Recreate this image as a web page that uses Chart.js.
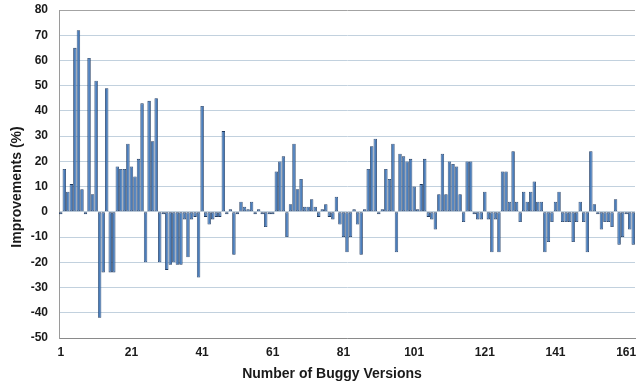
<!DOCTYPE html>
<html>
<head>
<meta charset="utf-8">
<script src="https://cdn.jsdelivr.net/npm/chart.js@4/dist/chart.umd.min.js"></script>
<style>
  html, body { margin: 0; padding: 0; background: #ffffff; }
  #wrap { width: 636px; height: 387px; }
</style>
</head>
<body>
<div id="wrap"><canvas id="chart" width="636" height="387"></canvas></div>
<script>
// Improvement (%) per buggy version, versions 1..163
const improvements = [
  -1, 17, 8, 11, 65, 72, 9, -1, 61, 7,
  52, -42, -24, 49, -24, -24, 18, 17, 17, 27,
  18, 14, 21, 43, -20, 44, 28, 45, -20, -1,
  -23, -21, -20, -21, -21, -3, -18, -3, -2, -26,
  42, -2, -5, -3, -2, -2, 32, -1, 1, -17,
  -1, 4, 2, 1, 4, -1, 1, -1, -6, -1,
  -1, 16, 20, 22, -10, 3, 27, 9, 13, 2,
  2, 5, 2, -2, 1, 3, -2, -3, 6, -5,
  -10, -16, -10, 1, -5, -17, 1, 17, 26, 29,
  -1, 1, 17, 13, 27, -16, 23, 22, 20, 21,
  10, 1, 11, 21, -2, -3, -7, 7, 23, 7,
  20, 19, 18, 7, -4, 20, 20, -1, -3, -3,
  8, -3, -16, -3, -16, 16, 16, 4, 24, 4,
  -4, 8, 4, 8, 12, 4, 4, -16, -12, -4,
  4, 8, -4, -4, -4, -12, -4, 4, -4, -16,
  24, 3, -1, -7, -4, -4, -6, 5, -13, -10,
  -1, -7, -13
];

// Version numbers used as categories
const versions = improvements.map((_, i) => String(i + 1));

// Category labels shown under the axis
const xTickLabels = ['1', '21', '41', '61', '81', '101', '121', '141', '161'];

// Value axis range and step
const yRange = { min: -50, max: 80, step: 10 };

const xTitle = 'Number of Buggy Versions';
const yTitle = 'Improvements (%)';

const fontFamily = "'Liberation Sans', Arial, Helvetica, sans-serif";
const textColor = '#1a1a1a';

// Axis titles, placed relative to the plot area
const axisTitles = {
  id: 'axisTitles',
  afterDraw(chart) {
    const { ctx, chartArea } = chart;
    ctx.save();
    ctx.fillStyle = textColor;
    ctx.font = 'bold 14px ' + fontFamily;
    ctx.textAlign = 'center';
    ctx.textBaseline = 'middle';
    ctx.fillText(xTitle, chartArea.left + 273, chartArea.bottom + 36);
    ctx.translate(17, chartArea.top + 177);
    ctx.rotate(-Math.PI / 2);
    ctx.fillText(yTitle, 0, 0);
    ctx.restore();
  }
};

new Chart(document.getElementById('chart'), {
  type: 'bar',
  data: {
    labels: versions,
    datasets: [{
      data: improvements,
      backgroundColor: '#4a7dbb',
      borderColor: '#1f3a60',
      borderWidth: 0.8,
      borderSkipped: false,
      barPercentage: 1,
      categoryPercentage: 0.97
    }]
  },
  plugins: [axisTitles],
  options: {
    responsive: false,
    animation: false,
    devicePixelRatio: 1,
    layout: { padding: { top: 10, right: 1, left: 0, bottom: 0 } },
    plugins: {
      legend: { display: false },
      tooltip: { enabled: false }
    },
    scales: {
      x: {
        grid: { display: false, drawTicks: false },
        border: { color: '#8a8a8a', width: 1 },
        ticks: {
          autoSkip: false,
          maxRotation: 0,
          minRotation: 0,
          padding: 7,
          color: textColor,
          font: { family: fontFamily, size: 12, weight: 'bold' },
          callback: function (value, index) {
            const lbl = versions[index];
            return xTickLabels.includes(lbl) ? lbl : '';
          }
        },
        afterFit: function (scale) {
          scale.height = 49;
          scale.paddingLeft = 0;
          scale.paddingRight = 0;
        }
      },
      y: {
        min: yRange.min,
        max: yRange.max,
        grid: {
          drawTicks: false,
          color: function (ctx) {
            return ctx.tick && ctx.tick.value === yRange.max ? '#a3a3a3' : '#c2d1de';
          },
          lineWidth: 1
        },
        border: { color: '#9a9a9a', width: 1 },
        ticks: {
          stepSize: yRange.step,
          padding: 11,
          color: textColor,
          font: { family: fontFamily, size: 12, weight: 'bold' }
        },
        afterFit: function (scale) {
          scale.width = 59;
          scale.paddingTop = 0;
          scale.paddingBottom = 0;
        }
      }
    }
  }
});
</script>
</body>
</html>
